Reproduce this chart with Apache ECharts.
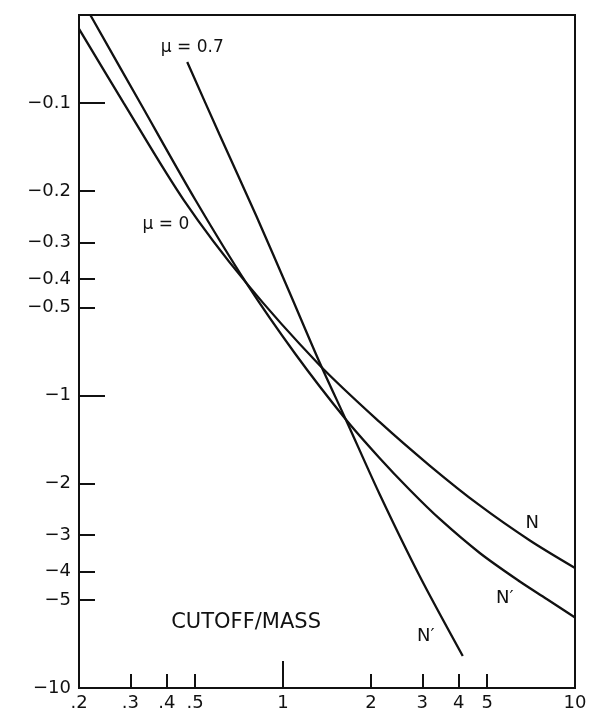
<!DOCTYPE html>
<html>
<head>
<meta charset="utf-8">
<script src="https://cdn.jsdelivr.net/npm/echarts@6/dist/echarts.min.js"></script>
<style>
html,body{margin:0;padding:0;background:#fff;}
#chart{width:590px;height:712px;}
</style>
</head>
<body>
<div id="chart"></div>
<script>
// Tick values (x = cutoff/mass, y = magnitude of the negative quantity)
const xTickValues = [0.2, 0.3, 0.4, 0.5, 1, 2, 3, 4, 5, 10];
const xLongTicks = [1];
const yTickValues = [0.1, 0.2, 0.3, 0.4, 0.5, 1, 2, 3, 4, 5, 10];
const yLongTicks = [0.1, 1];

// Curve "N" (mu = 0)
const curveNx = [0.2, 0.285, 0.457, 0.748, 1.332, 2.14, 3.178, 4.718, 7.006, 10];
const curveNy = [0.0558, 0.1002, 0.2146, 0.412, 0.786, 1.231, 1.735, 2.376, 3.13, 3.886];

// Curve "N'" (mu = 0)
const curveN1x = [0.2187, 0.3246, 0.501, 0.748, 1.102, 1.636, 2.14, 2.714, 3.44, 4.718, 6.47, 8.0, 10];
const curveN1y = [0.05, 0.1002, 0.2146, 0.412, 0.721, 1.203, 1.635, 2.10, 2.643, 3.454, 4.323, 4.96, 5.74];

// Curve "N'" (mu = 0.7)
const curveN2x = [0.4696, 0.6046, 0.810, 1.051, 1.332, 1.649, 2.14, 2.936, 4.126];
const curveN2y = [0.0724, 0.1276, 0.2433, 0.4426, 0.768, 1.222, 2.171, 4.14, 7.77];

// Annotations (text, x, y in data units)
const annText = ['\u03bc = 0.7', '\u03bc = 0', 'N', 'N\u2032', 'N\u2032', 'CUTOFF/MASS'];
const annX = [0.4886, 0.397, 7.14, 5.75, 3.08, 0.747];
const annY = [0.0646, 0.261, 2.73, 4.92, 6.64, 5.97];
const annSize = [17, 17, 18, 18, 18, 21];

const FONT = 'DejaVu Sans';
const INK = '#111';

function zip(xs, ys) { return xs.map((x, i) => [x, ys[i]]); }
function clean(v) { return Number(Number(v).toPrecision(6)); }

const chart = echarts.init(document.getElementById('chart'), null, {renderer: 'canvas'});

const lineStyle = {color: INK, width: 2.3};

const option = {
  animation: false,
  backgroundColor: '#fff',
  grid: {left: 79, right: 15, top: 15, bottom: 24, show: true, borderColor: INK, borderWidth: 2, backgroundColor: 'transparent'},
  xAxis: [
    {
      type: 'log', min: 0.2, max: 10, position: 'bottom',
      axisLine: {show: true, lineStyle: {color: INK, width: 2}},
      axisTick: {show: true, inside: true, length: 14, customValues: xTickValues, lineStyle: {color: INK, width: 2}},
      axisLabel: {show: true, customValues: xTickValues, margin: 6, color: INK, fontFamily: FONT, fontSize: 18,
        formatter: v => { const s = String(clean(v)); return s.startsWith('0.') ? s.slice(1) : s; }},
      splitLine: {show: false}, minorTick: {show: false}
    },
    {
      type: 'log', min: 0.2, max: 10, position: 'bottom',
      axisLine: {show: false},
      axisTick: {show: true, inside: true, length: 27, customValues: xLongTicks, lineStyle: {color: INK, width: 2}},
      axisLabel: {show: false},
      splitLine: {show: false}
    }
  ],
  yAxis: [
    {
      type: 'log', min: 0.05, max: 10, inverse: true, position: 'left',
      axisLine: {show: true, lineStyle: {color: INK, width: 2}},
      axisTick: {show: true, inside: true, length: 16, customValues: yTickValues, lineStyle: {color: INK, width: 2}},
      axisLabel: {show: true, customValues: yTickValues, margin: 8, color: INK, fontFamily: FONT, fontSize: 18,
        formatter: v => '\u2212' + clean(v)},
      splitLine: {show: false}, minorTick: {show: false}
    },
    {
      type: 'log', min: 0.05, max: 10, inverse: true, position: 'left',
      axisLine: {show: false},
      axisTick: {show: true, inside: true, length: 26, customValues: yLongTicks, lineStyle: {color: INK, width: 2}},
      axisLabel: {show: false},
      splitLine: {show: false}
    }
  ],
  series: [
    {
      name: 'N', type: 'line', xAxisIndex: 0, yAxisIndex: 0, data: zip(curveNx, curveNy),
      smooth: 0.3, showSymbol: false, symbol: 'none', lineStyle: lineStyle,
      markPoint: {
        symbol: 'circle', symbolSize: 0, silent: true,
        label: {show: true, position: 'inside', color: INK, fontFamily: FONT},
        data: annText.map((t, i) => ({coord: [annX[i], annY[i]], value: t,
          label: {formatter: t, fontSize: annSize[i]}}))
      }
    },
    {name: "N'", type: 'line', xAxisIndex: 0, yAxisIndex: 0, data: zip(curveN1x, curveN1y),
      smooth: 0.3, showSymbol: false, symbol: 'none', lineStyle: lineStyle},
    {name: "N' (mu=0.7)", type: 'line', xAxisIndex: 0, yAxisIndex: 0, data: zip(curveN2x, curveN2y),
      smooth: 0.3, showSymbol: false, symbol: 'none', lineStyle: lineStyle}
  ]
};
chart.setOption(option);
</script>
</body>
</html>
